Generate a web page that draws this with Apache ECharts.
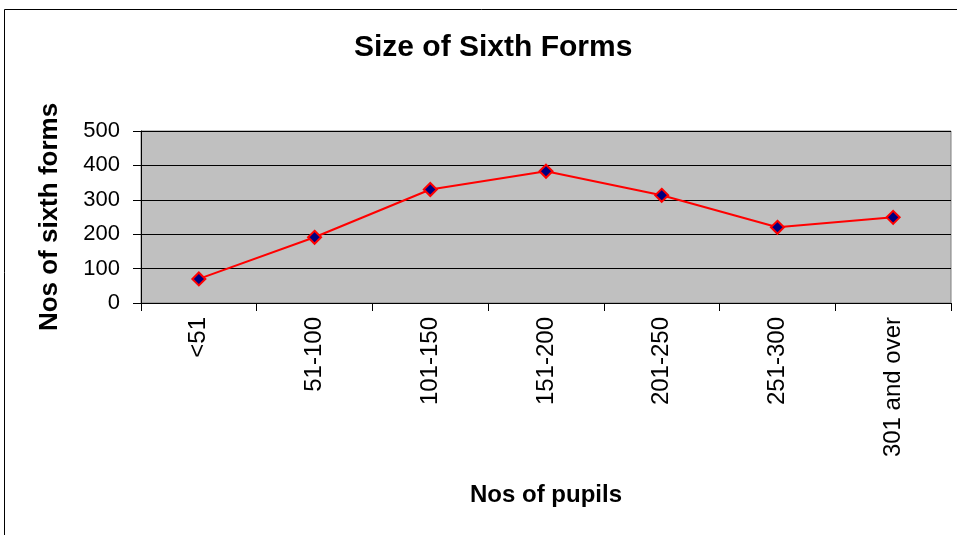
<!DOCTYPE html>
<html>
<head>
<meta charset="UTF-8">
<title>Size of Sixth Forms</title>
<script src="https://cdn.jsdelivr.net/npm/echarts@6/dist/echarts.min.js"></script>
<style>
  * { padding: 0; margin: 0; }
  #main { width: 957px; height: 535px; background: #fff; }
</style>
</head>
<body>
<div id="main"></div>
<script>
var categories = ['<51', '51-100', '101-150', '151-200', '201-250', '251-300', '301 and over'];
var sixthForms = [70, 191, 330, 383, 313, 220, 249];
var yTicks = [0, 100, 200, 300, 400, 500];

var chart = echarts.init(document.getElementById('main'));
var font = 'Liberation Sans, Arial, sans-serif';

chart.setOption({
  animation: false,
  textStyle: { fontFamily: font },
  title: {
    text: 'Size of Sixth Forms',
    left: 349,
    top: 28,
    textStyle: { fontSize: 30, fontWeight: 'bold', color: '#000', fontFamily: font }
  },
  graphic: [{
    type: 'rect',
    shape: { x: 4.5, y: 9.5, width: 1000, height: 600 },
    style: { fill: 'none', stroke: '#000', lineWidth: 1 },
    silent: true
  }],
  grid: {
    left: 141, top: 131, right: 6, bottom: 232,
    show: true,
    backgroundColor: '#c0c0c0',
    borderColor: '#808080',
    borderWidth: 1
  },
  xAxis: {
    type: 'category',
    data: categories,
    boundaryGap: true,
    name: 'Nos of pupils',
    nameLocation: 'middle',
    nameGap: 180,
    nameTextStyle: { fontSize: 24, fontWeight: 'bold', color: '#000', fontFamily: font },
    axisLine: { lineStyle: { color: '#000', width: 1 } },
    axisTick: { show: true, length: 8, alignWithLabel: false, lineStyle: { color: '#000' } },
    axisLabel: { rotate: 90, fontSize: 24, color: '#000', margin: 14, interval: 0 },
    splitLine: { show: false }
  },
  yAxis: {
    type: 'value',
    min: yTicks[0],
    max: yTicks[yTicks.length - 1],
    interval: 100,
    name: 'Nos of sixth forms',
    nameLocation: 'middle',
    nameGap: 78,
    nameTextStyle: { fontSize: 26, fontWeight: 'bold', color: '#000', fontFamily: font },
    axisLine: { show: true, lineStyle: { color: '#000', width: 1 } },
    axisTick: { show: true, length: 8, lineStyle: { color: '#000' } },
    axisLabel: { fontSize: 22, color: '#000', margin: 21 },
    splitLine: { show: true, lineStyle: { color: '#000', width: 1 } }
  },
  series: [{
    type: 'line',
    data: sixthForms,
    symbol: 'diamond',
    symbolSize: 13,
    lineStyle: { color: '#ff0000', width: 2 },
    itemStyle: { color: '#000080', borderColor: '#ff0000', borderWidth: 2 }
  }]
});
</script>
</body>
</html>
